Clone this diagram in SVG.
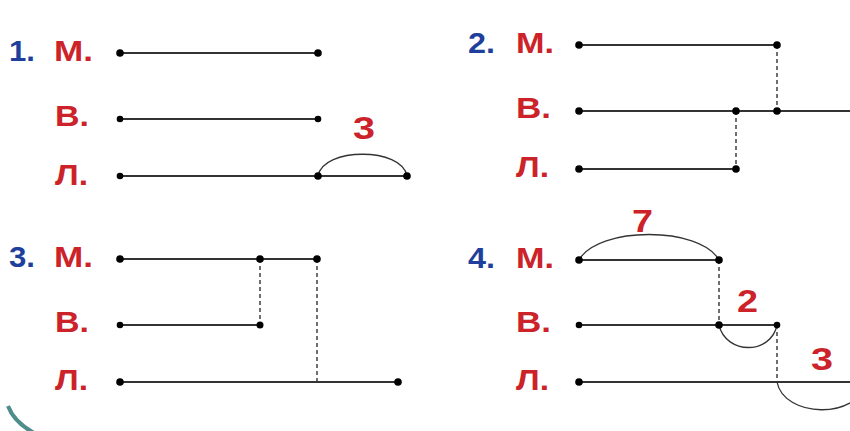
<svg xmlns="http://www.w3.org/2000/svg" width="850" height="431" viewBox="0 0 850 431">
<style>
.num{font-family:"Liberation Sans",Arial,sans-serif;font-weight:bold;font-size:30px;fill:#1f3f9c}
.lbl{font-family:"Liberation Sans",Arial,sans-serif;font-weight:bold;font-size:30px;fill:#cc2229}
.val{font-family:"Liberation Sans",Arial,sans-serif;font-weight:bold;font-size:31px;fill:#cc2229}
.ln{stroke:#333;stroke-width:1.8;fill:none}
.dash{stroke:#333;stroke-width:1.4;stroke-dasharray:4 3;fill:none}
.arc{stroke:#333;stroke-width:1.3;fill:none}
.dot{fill:#000}
</style>
<rect width="850" height="431" fill="#fff"/>
<path d="M8,406 Q14,422 34,433" stroke="#4f8c8c" stroke-width="4" fill="none"/>

<g id="panel1">
<text class="num" x="9" y="61" textLength="26" lengthAdjust="spacingAndGlyphs">1.</text>
<text class="lbl" x="54" y="61" textLength="39" lengthAdjust="spacingAndGlyphs">М.</text>
<text class="lbl" x="55" y="126" textLength="34" lengthAdjust="spacingAndGlyphs">В.</text>
<text class="lbl" x="55" y="185" textLength="33" lengthAdjust="spacingAndGlyphs">Л.</text>
<line class="ln" x1="120" y1="53" x2="318" y2="53"/>
<line class="ln" x1="120" y1="119" x2="318" y2="119"/>
<line class="ln" x1="120" y1="176" x2="407" y2="176"/>
<path class="arc" d="M318,176 C323,147 402,147 407,176"/>
<text class="val" x="353" y="139" textLength="22" lengthAdjust="spacingAndGlyphs">3</text>
<circle class="dot" cx="120" cy="53" r="3.8"/><circle class="dot" cx="318" cy="53" r="3.8"/>
<circle class="dot" cx="120" cy="119" r="3.3"/><circle class="dot" cx="318" cy="119" r="3.3"/>
<circle class="dot" cx="120" cy="176" r="3.3"/><circle class="dot" cx="318" cy="176" r="3.8"/><circle class="dot" cx="407" cy="176" r="3.8"/>
</g>

<g id="panel2">
<text class="num" x="468" y="53" textLength="27" lengthAdjust="spacingAndGlyphs">2.</text>
<text class="lbl" x="516" y="53" textLength="38" lengthAdjust="spacingAndGlyphs">М.</text>
<text class="lbl" x="516" y="118" textLength="35" lengthAdjust="spacingAndGlyphs">В.</text>
<text class="lbl" x="516" y="177" textLength="33" lengthAdjust="spacingAndGlyphs">Л.</text>
<line class="ln" x1="579" y1="45" x2="777" y2="45"/>
<line class="ln" x1="579" y1="111" x2="850" y2="111"/>
<line class="ln" x1="579" y1="169" x2="736" y2="169"/>
<line class="dash" x1="777" y1="45" x2="777" y2="111"/>
<line class="dash" x1="736" y1="111" x2="736" y2="169"/>
<circle class="dot" cx="579" cy="45" r="3.8"/><circle class="dot" cx="777" cy="45" r="3.8"/>
<circle class="dot" cx="579" cy="111" r="3.8"/><circle class="dot" cx="736" cy="111" r="3.8"/><circle class="dot" cx="777" cy="111" r="3.8"/>
<circle class="dot" cx="579" cy="169" r="3.8"/><circle class="dot" cx="736" cy="169" r="3.8"/>
</g>

<g id="panel3">
<text class="num" x="9" y="267" textLength="26" lengthAdjust="spacingAndGlyphs">3.</text>
<text class="lbl" x="54" y="267" textLength="39" lengthAdjust="spacingAndGlyphs">М.</text>
<text class="lbl" x="55" y="332" textLength="34" lengthAdjust="spacingAndGlyphs">В.</text>
<text class="lbl" x="55" y="390" textLength="33" lengthAdjust="spacingAndGlyphs">Л.</text>
<line class="ln" x1="120" y1="259" x2="317" y2="259"/>
<line class="ln" x1="120" y1="325" x2="260" y2="325"/>
<line class="ln" x1="120" y1="382" x2="398" y2="382"/>
<line class="dash" x1="260" y1="259" x2="260" y2="325"/>
<line class="dash" x1="317" y1="259" x2="317" y2="382"/>
<circle class="dot" cx="120" cy="259" r="3.8"/><circle class="dot" cx="260" cy="259" r="3.8"/><circle class="dot" cx="317" cy="259" r="3.8"/>
<circle class="dot" cx="120" cy="325" r="3.3"/><circle class="dot" cx="260" cy="325" r="3.5"/>
<circle class="dot" cx="120" cy="382" r="3.8"/><circle class="dot" cx="398" cy="382" r="3.8"/>
</g>

<g id="panel4">
<text class="num" x="468" y="268" textLength="27" lengthAdjust="spacingAndGlyphs">4.</text>
<text class="lbl" x="516" y="268" textLength="38" lengthAdjust="spacingAndGlyphs">М.</text>
<text class="lbl" x="516" y="332" textLength="35" lengthAdjust="spacingAndGlyphs">В.</text>
<text class="lbl" x="516" y="390" textLength="33" lengthAdjust="spacingAndGlyphs">Л.</text>
<line class="ln" x1="579" y1="260" x2="719" y2="260"/>
<line class="ln" x1="579" y1="325" x2="777" y2="325"/>
<line class="ln" x1="579" y1="382" x2="850" y2="382"/>
<line class="dash" x1="719" y1="260" x2="719" y2="325"/>
<line class="dash" x1="777" y1="325" x2="777" y2="382"/>
<path class="arc" d="M579,260 C598,226 700,226 719,260"/>
<path class="arc" d="M719,325 C726,355 771,355 777,325"/>
<path class="arc" d="M777,382 C784,418 858,420 866,382"/>
<text class="val" x="632" y="232" textLength="21" lengthAdjust="spacingAndGlyphs">7</text>
<text class="val" x="737" y="312" textLength="21" lengthAdjust="spacingAndGlyphs">2</text>
<text class="val" x="811" y="370" textLength="22" lengthAdjust="spacingAndGlyphs">3</text>
<circle class="dot" cx="579" cy="260" r="3.8"/><circle class="dot" cx="719" cy="260" r="3.8"/>
<circle class="dot" cx="579" cy="325" r="3.3"/><circle class="dot" cx="719" cy="325" r="3.8"/><circle class="dot" cx="777" cy="325" r="3.3"/>
<circle class="dot" cx="579" cy="382" r="3.8"/>
</g>
</svg>
